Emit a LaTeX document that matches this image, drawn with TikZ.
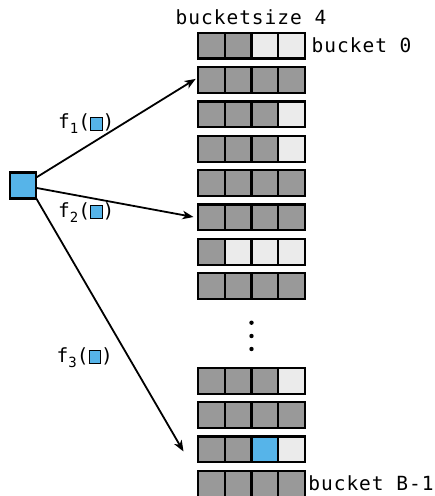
\documentclass[tikz,border=0pt]{standalone}
\usepackage{fontspec}
\newfontfamily\monof[LetterSpace=5]{DejaVu Sans Mono}
\usetikzlibrary{arrows.meta,calc}
\definecolor{dk}{HTML}{999999}
\definecolor{lt}{HTML}{EBEBEB}
\definecolor{sky}{HTML}{56B4E9}
\setlength\fboxsep{0pt}
\setlength\fboxrule{1pt}
\newcommand\mysub[1]{\raisebox{-5pt}{\fontsize{14}{14}\selectfont #1}}
\newcommand\mysq{\raisebox{-1pt}{\fcolorbox{black}{sky}{\rule{0pt}{12pt}\rule{10.5pt}{0pt}}}}
\begin{document}
\begin{tikzpicture}[x=1pt,y=-1pt,
  cell/.style={draw=black,line width=2.2pt,minimum width=26.6pt,minimum height=25.8pt,inner sep=0pt,outer sep=0pt},
  txt/.style={font=\monof\fontsize{19.5}{19.5}\selectfont,inner sep=0pt,anchor=base west},
  arr/.style={line width=1.8pt,-{Stealth[length=11pt,width=8.5pt,inset=3pt]}}]
\useasboundingbox (0,0) rectangle (435,496);
\foreach \r/\pos/\ca/\cb/\cc/\cd in {
  0/0/dk/dk/lt/lt, 1/1/dk/dk/dk/dk, 2/2/dk/dk/dk/lt, 3/3/dk/dk/dk/lt,
  4/4/dk/dk/dk/dk, 5/5/dk/dk/dk/dk, 6/6/dk/lt/lt/lt, 7/7/dk/dk/dk/dk,
  8/9.75/dk/dk/dk/lt, 9/10.75/dk/dk/dk/dk, 10/11.75/dk/dk/sky/lt, 11/12.75/dk/dk/dk/dk}{
  \foreach \j/\s in {1/\ca,2/\cb,3/\cc,4/\cd}{
    \node[cell,fill=\s] (c\r-\j) at ({198.3+26.6*(\j-0.5)},{45.6+34.37*\pos}) {};
  }
}
\foreach \k/\yy in {1/322.7,2/336,3/349}{
  \fill (251.5,\yy) circle (2.2pt);
}
\node[cell,fill=sky,minimum width=26pt,minimum height=26pt] (src) at (23.3,185.5) {};
\coordinate (t1) at (195.7,78.9);
\coordinate (t2) at (193.5,217);
\coordinate (t3) at (183.5,451.5);
\draw[arr] (src) -- (t1);
\draw[arr] (src) -- (t2);
\draw[arr] (src.south east) -- (t3);
\node[txt] (hdr) at (175.5,24) {bucketsize 4};
\node[txt] (b0) at (311.5,52.5) {bucket 0};
\node[txt] (bB) at (308.2,490.5) {bucket B-1};
\node[txt] (f1) at (58,128.5) {f\mysub{1}(\mysq)};
\node[txt] (f2) at (58,217) {f\mysub{2}(\mysq)};
\node[txt] (f3) at (56.5,362) {f\mysub{3}(\mysq)};
\end{tikzpicture}
\end{document}
